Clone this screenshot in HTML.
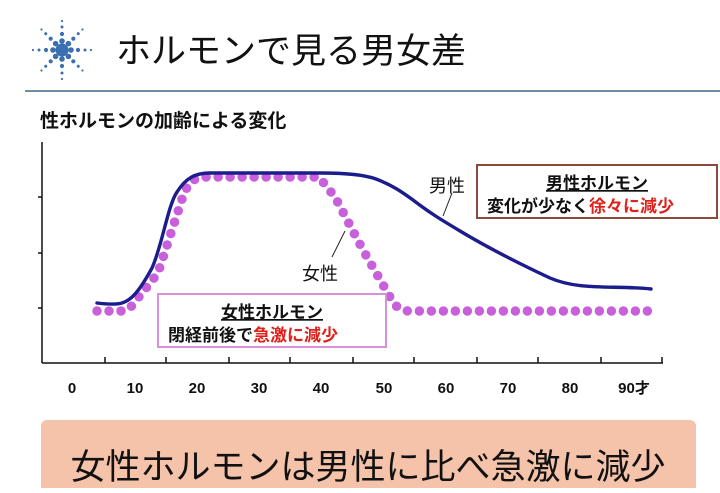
<!DOCTYPE html>
<html><head><meta charset="utf-8"><style>
body{margin:0;width:720px;height:488px;background:#fff;overflow:hidden;font-family:"Liberation Sans","Noto Sans CJK JP",sans-serif}
</style></head><body>
<svg width="720" height="488" viewBox="0 0 720 488" xmlns="http://www.w3.org/2000/svg" font-family="Liberation Sans, Noto Sans CJK JP, sans-serif">
<rect width="720" height="488" fill="#fff"/>
<g fill="#3a6fb0">
<circle cx="62" cy="50" r="6.5"/>
<g id="ray">
<circle cx="71" cy="50" r="2.8"/><circle cx="78" cy="50" r="2.1"/><circle cx="85" cy="50" r="1.5"/><circle cx="91" cy="50" r="1.1"/>
</g>
<use href="#ray" transform="rotate(45 62 50)"/><use href="#ray" transform="rotate(90 62 50)"/><use href="#ray" transform="rotate(135 62 50)"/>
<use href="#ray" transform="rotate(180 62 50)"/><use href="#ray" transform="rotate(225 62 50)"/><use href="#ray" transform="rotate(270 62 50)"/><use href="#ray" transform="rotate(315 62 50)"/>
</g>
<text x="116" y="63" font-size="35" fill="#111">ホルモンで見る男女差</text>
<line x1="25" y1="91" x2="720" y2="91" stroke="#6f8ea5" stroke-width="2"/>
<text x="40" y="127" font-size="19" font-weight="bold" fill="#111">性ホルモンの加齢による変化</text>
<g stroke="#111" stroke-width="1.5" fill="none">
<line x1="42" y1="142" x2="42" y2="363"/>
<line x1="42" y1="363" x2="663" y2="363"/>
<line x1="38" y1="197" x2="42" y2="197"/><line x1="38" y1="253" x2="42" y2="253"/><line x1="38" y1="308" x2="42" y2="308"/>
<path d="M105 357v6M166 357v6M229 357v6M290 357v6M353 357v6M414 357v6M477 357v6M538 357v6M601 357v6M662 357v6"/>
</g>
<g font-size="15" font-weight="bold" fill="#111" text-anchor="middle">
<text x="72" y="393">0</text><text x="135" y="393">10</text><text x="197" y="393">20</text><text x="259" y="393">30</text><text x="321" y="393">40</text><text x="384" y="393">50</text><text x="446" y="393">60</text><text x="508" y="393">70</text><text x="570" y="393">80</text><text x="634" y="393">90才</text>
</g>
<path d="M97 311 L122 311 C128 311 130 308 134 303 L158 273 L184 193 C190 181 195 177 205 177 L319 177 L335 197 L363 250 L390 297 C395 305 398 311 410 311 L650 311" fill="none" stroke="#c860dc" stroke-width="9.5" stroke-linecap="round" stroke-dasharray="0 12"/>
<path d="M97 303 C105 304 115 305 122 303 C132 300 140 290 152 268 C162 246 168 205 177 192 C186 178 195 173 210 173 L321 173 C345 173 365 175 376 179 C392 185 402 192 413 200 C430 213 440 219 460 231 C490 249 520 264 550 278 C580 291 615 285 651 289" fill="none" stroke="#1c1c8c" stroke-width="3.4" stroke-linecap="round"/>
<line x1="452" y1="193" x2="443" y2="216" stroke="#222" stroke-width="1"/>
<line x1="345" y1="231" x2="332" y2="257" stroke="#222" stroke-width="1"/>
<text x="429" y="192" font-size="18" fill="#111">男性</text>
<text x="302" y="280" font-size="18" fill="#111">女性</text>
<rect x="477" y="165" width="240" height="53" fill="#fff" stroke="#8b4a3a" stroke-width="2"/>
<text x="597" y="189" font-size="17" font-weight="bold" text-anchor="middle" fill="#111" text-decoration="underline">男性ホルモン</text>
<text x="487" y="212" font-size="17" font-weight="bold" fill="#111">変化が少なく<tspan fill="#e0201a">徐々に減少</tspan></text>
<rect x="158" y="294" width="228" height="53" fill="#fff" stroke="#d890d8" stroke-width="2"/>
<text x="272" y="318" font-size="17" font-weight="bold" text-anchor="middle" fill="#111" text-decoration="underline">女性ホルモン</text>
<text x="168" y="341" font-size="17" font-weight="bold" fill="#111">閉経前後で<tspan fill="#e0201a">急激に減少</tspan></text>
<rect x="41" y="420" width="655" height="80" rx="6" fill="#f5c2aa"/>
<text x="368" y="479" font-size="35" text-anchor="middle" fill="#111">女性ホルモンは男性に比べ急激に減少</text>
</svg>
</body></html>
